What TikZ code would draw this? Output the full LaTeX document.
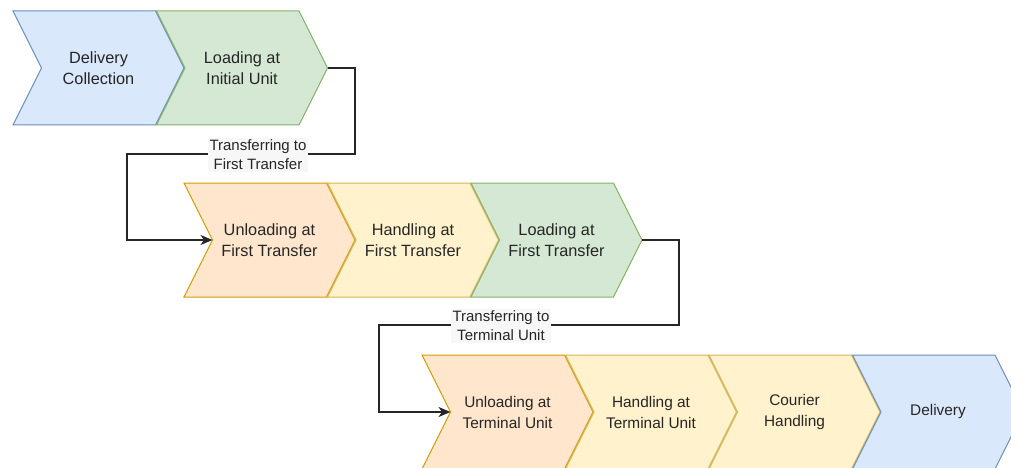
\documentclass[tikz,border=0pt]{standalone}
\usepackage{fontspec}
\setmainfont{Liberation Sans}
\usetikzlibrary{arrows.meta}
\definecolor{bluef}{HTML}{DAE8FC}\definecolor{blued}{HTML}{6C8EBF}
\definecolor{greenf}{HTML}{D5E8D4}\definecolor{greend}{HTML}{82B366}
\definecolor{orangef}{HTML}{FFE6CC}\definecolor{oranged}{HTML}{D79B00}
\definecolor{yellowf}{HTML}{FFF2CC}\definecolor{yellowd}{HTML}{D6B656}
\definecolor{txtc}{HTML}{262626}
\newcommand\mychev[6]{%
  \path[#4] (#2,#3-57) -- ++(142.5,0) -- ++(28.5,57) -- ++(-28.5,57) -- ++(-142.5,0) -- ++(28.5,-57) -- cycle;
  \node[#5] (#1) at (#2+85.5,#3) {#6};
  \coordinate (#1-tip) at (#2+171,#3);
  \coordinate (#1-notch) at (#2+28.5,#3);
}
\tikzset{
  blueshape/.style={fill=bluef,draw=blued,line width=1pt,line join=miter},
  greenshape/.style={fill=greenf,draw=greend,line width=1pt,line join=miter},
  orangeshape/.style={fill=orangef,draw=oranged,line width=1pt,line join=miter},
  yellowshape/.style={fill=yellowf,draw=yellowd,line width=1pt,line join=miter},
  txtA/.style={text=txtc,align=center,font=\fontsize{16.3}{20.5}\selectfont,inner sep=0pt},
  txtB/.style={text=txtc,align=center,font=\fontsize{15.4}{21}\selectfont,inner sep=0pt},
  lbl/.style={text=txtc,align=center,font=\fontsize{15}{19}\selectfont,fill=black!3,inner sep=1.5pt},
  conn/.style={draw=black!85,line width=1.5pt,-{Stealth[length=12pt,width=10pt,inset=3.5pt]}}
}
\begin{document}
\begin{tikzpicture}[x=1pt,y=-1pt]
\useasboundingbox (0,0) rectangle (1011,468);
\clip (0,0) rectangle (1011,468);
\fill[white] (0,0) rectangle (1011,468);
% row 1
\mychev{a1}{13}{68}{blueshape}{txtA}{Delivery\\Collection}
\mychev{a2}{156.5}{68}{greenshape}{txtA}{Loading at\\Initial Unit}
% row 2
\mychev{b1}{184}{240}{orangeshape}{txtA}{Unloading at\\First Transfer}
\mychev{b2}{327.5}{240}{yellowshape}{txtA}{Handling at\\First Transfer}
\mychev{b3}{471}{240}{greenshape}{txtA}{Loading at\\First Transfer}
% row 3
\mychev{c1}{422}{412}{orangeshape}{txtB}{Unloading at\\Terminal Unit}
\mychev{c2}{565.5}{412}{yellowshape}{txtB}{Handling at\\Terminal Unit}
\mychev{c3}{709}{412}{yellowshape}{txtB}{Courier\\Handling}
\mychev{c4}{852.5}{412}{blueshape}{txtB}{Delivery}
% connectors
\coordinate (k1) at (355,154);
\coordinate (k2) at (127,154);
\draw[conn] (a2-tip) -| (k1) -- (k2) |- (b1-notch);
\node[lbl] (t1) at (258,155) {Transferring to\\First Transfer};
\coordinate (k3) at (679,325);
\coordinate (k4) at (379,325);
\draw[conn] (b3-tip) -| (k3) -- (k4) |- (c1-notch);
\node[lbl] (t2) at (501,326) {Transferring to\\Terminal Unit};
\end{tikzpicture}
\end{document}
